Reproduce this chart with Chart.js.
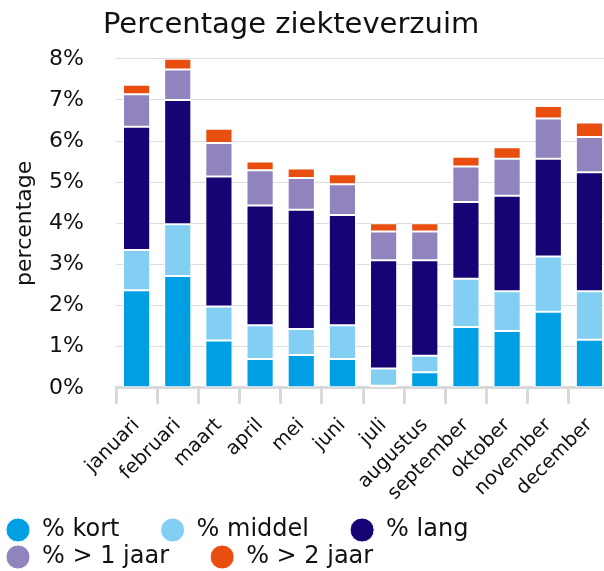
<!DOCTYPE html>
<html>
<head>
<meta charset="utf-8">
<script src="https://cdn.jsdelivr.net/npm/chart.js@4/dist/chart.umd.min.js"></script>
<style>
  html, body { margin: 0; padding: 0; background: #fff; overflow: hidden; }
</style>
</head>
<body>
<canvas id="verzuimChart" width="616" height="579"></canvas>
<script>
const months = ["januari", "februari", "maart", "april", "mei", "juni", "juli", "augustus", "september", "oktober", "november", "december"];
const kort = [2.37, 2.72, 1.15, 0.70, 0.80, 0.70, 0.05, 0.38, 1.48, 1.38, 1.85, 1.17];
const middel = [0.98, 1.26, 0.83, 0.82, 0.63, 0.82, 0.42, 0.40, 1.17, 0.97, 1.34, 1.18];
const lang = [3.00, 3.02, 3.16, 2.91, 2.90, 2.68, 2.63, 2.32, 1.87, 2.32, 2.38, 2.89];
const jaar1 = [0.79, 0.74, 0.81, 0.86, 0.77, 0.75, 0.70, 0.70, 0.86, 0.90, 0.98, 0.86];
const jaar2 = [0.23, 0.26, 0.35, 0.21, 0.23, 0.24, 0.20, 0.20, 0.24, 0.28, 0.30, 0.35];
const yTicks = [0, 1, 2, 3, 4, 5, 6, 7, 8];

const FONT = "'DejaVu Sans', Verdana, sans-serif";
Chart.defaults.font.family = FONT;
Chart.defaults.color = "#111";

function series(label, data, color) {
  return {
    label: label,
    data: data,
    backgroundColor: color,
    borderColor: "#ffffff",
    borderWidth: 1,
    borderSkipped: false,
    barPercentage: 0.66,
    categoryPercentage: 1,
  };
}

const ctx = document.getElementById("verzuimChart").getContext("2d");
new Chart(ctx, {
  type: "bar",
  data: {
    labels: months,
    datasets: [
      series("% kort", kort, "#009fe3"),
      series("% middel", middel, "#83cff4"),
      series("% lang", lang, "#160474"),
      series("% > 1 jaar", jaar1, "#9183bd"),
      series("% > 2 jaar", jaar2, "#e84e10"),
    ],
  },
  options: {
    responsive: false,
    devicePixelRatio: 1,
    animation: false,
    layout: { padding: { left: 3, right: 0, top: 0, bottom: 0 } },
    plugins: {
      title: {
        display: true,
        text: "Percentage ziekteverzuim    ",
        font: { size: 29, weight: "normal" },
        color: "#111",
        padding: { top: 8, bottom: 16 },
      },
      legend: {
        position: "bottom",
        align: "start",
        labels: {
          usePointStyle: true,
          pointStyle: "circle",
          boxWidth: 24,
          boxHeight: 17,
          padding: 3,
          font: { size: 24 },
          color: "#111",
          generateLabels: (chart) =>
            Chart.defaults.plugins.legend.labels.generateLabels(chart).map((l) => {
              l.text = l.text + "\u00a0\u00a0\u00a0\u00a0\u00a0";
              return l;
            }),
        },
      },
      tooltip: { enabled: false },
    },
    scales: {
      x: {
        stacked: true,
        ticks: { font: { size: 19.5 }, color: "#111", maxRotation: 45, minRotation: 45, padding: 10, autoSkip: false },
        grid: { display: true, drawOnChartArea: false, drawTicks: true, tickLength: 16, color: "#d9d9d9", lineWidth: 3 },
        border: { display: true, color: "#d9d9d9", width: 3 },
      },
      y: {
        stacked: true,
        min: yTicks[0],
        max: yTicks[yTicks.length - 1],
        afterBuildTicks: (axis) => { axis.ticks = yTicks.map((v) => ({ value: v })); },
        afterFit: (axis) => { axis.width = 113; },
        ticks: { font: { size: 22 }, color: "#111", padding: 32, callback: (v) => v + "%" },
        grid: { color: "#dddddd", lineWidth: 1, drawTicks: false },
        border: { display: false },
        title: { display: true, text: "percentage", font: { size: 22 }, color: "#111", padding: { top: 9, bottom: 8 } },
      },
    },
  },
});
</script>
</body>
</html>
